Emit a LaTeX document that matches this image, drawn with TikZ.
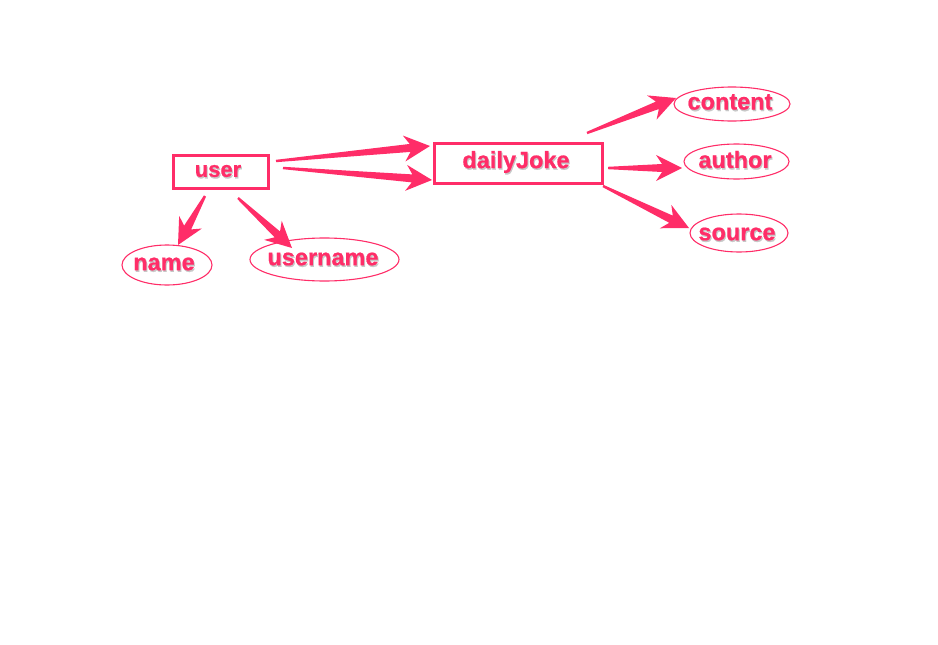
\documentclass[tikz,border=0pt]{standalone}
\usepackage{fontspec}
\setmainfont{Liberation Sans}[BoldFeatures={FakeBold=0.8}]
\usetikzlibrary{shapes.geometric,calc}
\definecolor{pk}{RGB}{255,45,104}
\tikzset{
  boxnode/.style={draw=pk, line width=3pt, rectangle, inner sep=0pt},
  oval/.style={draw=pk, line width=1.1pt, ellipse, inner sep=0pt},
  txt/.style={text=pk, font=\fontsize{23.5}{23.5}\selectfont\bfseries, inner sep=0pt},
  shd/.style={text=black!22, font=\fontsize{23.5}{23.5}\selectfont\bfseries, inner sep=0pt},
}
\newcommand\tarrow[2]{%
  \coordinate (hb) at ($(#2)!20pt!(#1)$);
  \coordinate (hw) at ($(#2)!26pt!(#1)$);
  \fill[pk] ($(#1)!1.2pt!90:(#2)$) -- ($(hb)!4pt!90:(#2)$) -- ($(hw)!13pt!90:(#2)$)
    -- (#2) -- ($(hw)!13pt!-90:(#2)$) -- ($(hb)!4pt!-90:(#2)$) -- ($(#1)!1.2pt!-90:(#2)$) -- cycle;
}
\newcommand\lbl[3]{% name, position, text
  \node[shd] (#1s) at ($(#2)+(1,1.6)$) {#3};
  \node[txt] (#1t) at (#2) {#3};
}
\begin{document}
\begin{tikzpicture}[x=1pt,y=-1pt]
\useasboundingbox (0,0) rectangle (938,645);
% boxes
\node[boxnode, minimum width=95, minimum height=33] (user) at (220.5,171.5) {};
\node[boxnode, minimum width=168, minimum height=40] (daily) at (518,163) {};
% ellipses
\node[oval, minimum width=90, minimum height=40] (name) at (167,265) {};
\node[oval, minimum width=149, minimum height=43] (username) at (324.5,259.5) {};
\node[oval, minimum width=116, minimum height=34] (content) at (732,104) {};
\node[oval, minimum width=105, minimum height=35] (author) at (736.5,161.5) {};
\node[oval, minimum width=98, minimum height=38] (source) at (739,233) {};
% labels
\lbl{user}{218,171}{\fontsize{22}{22}\selectfont user}
\lbl{daily}{516,162}{dailyJoke}
\lbl{name}{164,264}{name}
\lbl{username}{323,259}{username}
\lbl{content}{730,102}{content}
\lbl{author}{735,159.5}{author}
\lbl{source}{737,234}{source}
% arrow end points
\coordinate (a1s) at (276,161); \coordinate (a1e) at (430,146);
\coordinate (a2s) at (283,168); \coordinate (a2e) at (432,180);
\coordinate (a3s) at (205,196); \coordinate (a3e) at (178,245);
\coordinate (a4s) at (238,198); \coordinate (a4e) at (292,248);
\coordinate (a5s) at (587,133); \coordinate (a5e) at (676,98);
\coordinate (a6s) at (608,168); \coordinate (a6e) at (682,168);
\coordinate (a7s) at (603,186); \coordinate (a7e) at (689,228);
\tarrow{a1s}{a1e}
\tarrow{a2s}{a2e}
\tarrow{a3s}{a3e}
\tarrow{a4s}{a4e}
\tarrow{a5s}{a5e}
\tarrow{a6s}{a6e}
\tarrow{a7s}{a7e}
\end{tikzpicture}
\end{document}
